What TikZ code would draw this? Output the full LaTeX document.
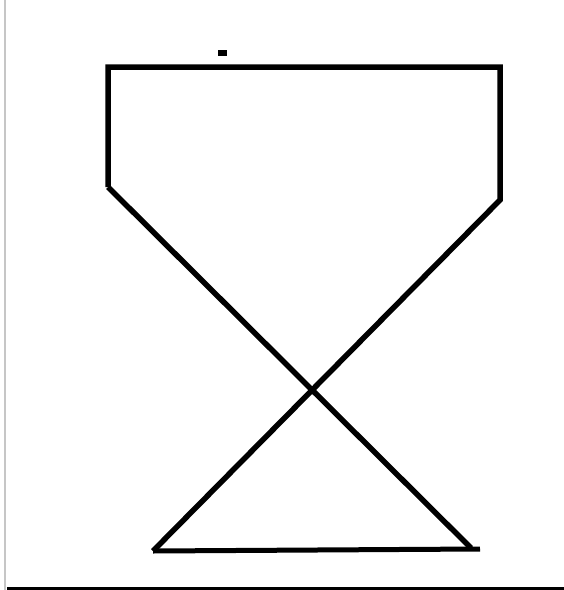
\documentclass[tikz,border=0pt]{standalone}
\usepackage{tikz}

\begin{document}
\begin{tikzpicture}[x=1pt,y=-1pt,line cap=butt,line join=miter]

\useasboundingbox (0,0) rectangle (564,590);

% Frame
\draw[gray!45,line width=2pt] (5,0) -- (5,590);
\draw[black,line width=3pt] (7,588.5) -- (564,588.5);

% Corners
\coordinate (tl) at (108,67);
\coordinate (tr) at (500,67);
\coordinate (lb) at (108,187);
\coordinate (rb) at (500,200);
\coordinate (bl) at (153,551);
\coordinate (br) at (471,548);
\coordinate (be) at (480,549);

% Hourglass
\draw[line width=5.5pt]
    (lb) -- (tl) -- (tr) -- (rb) -- (bl);
\draw[line width=5.5pt]
    (lb) -- (br);
\draw[line width=5pt]
    (bl) -- (be);

% Mark above the top
\fill (218,50) rectangle (227,55.5);

\end{tikzpicture}
\end{document}
